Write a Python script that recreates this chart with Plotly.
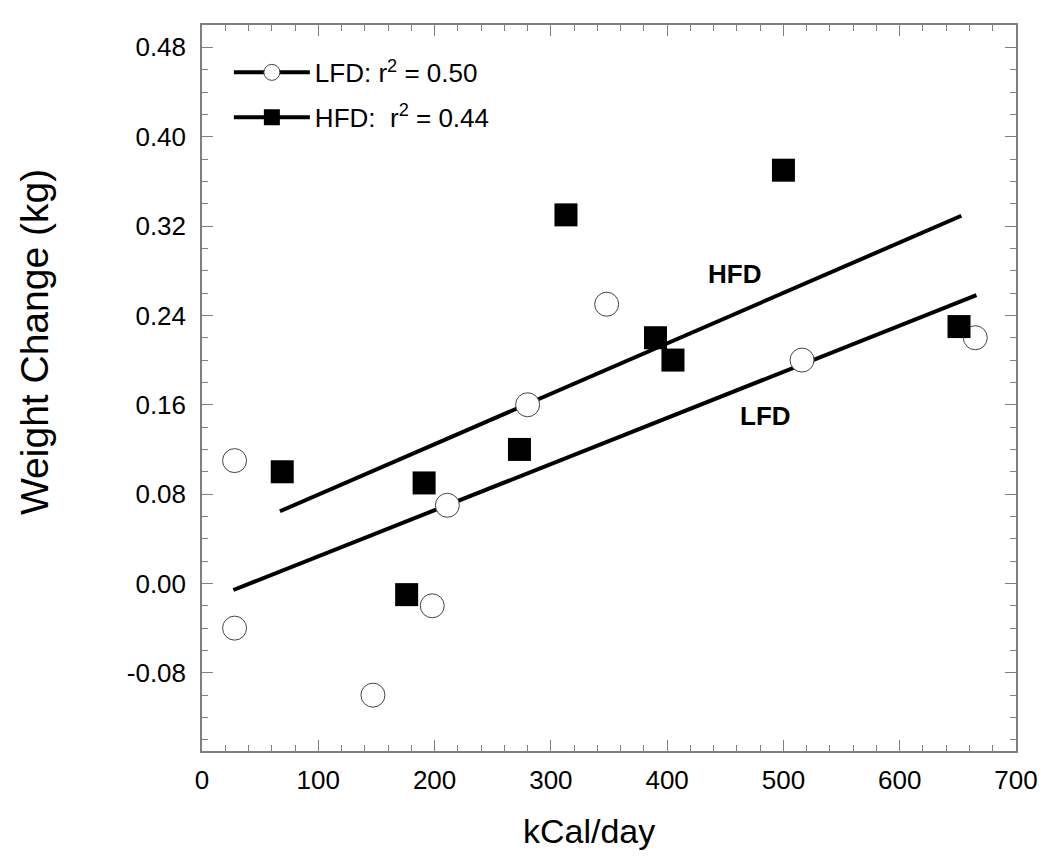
import plotly.graph_objects as go

# Data
lfd_x = [28, 28, 147, 198, 211, 280, 348, 516, 665]
lfd_y = [0.11, -0.04, -0.10, -0.02, 0.07, 0.16, 0.25, 0.20, 0.22]
hfd_x = [69, 176, 191, 273, 313, 390, 405, 500, 651]
hfd_y = [0.10, -0.01, 0.09, 0.12, 0.33, 0.22, 0.20, 0.37, 0.23]

# Regression lines (slope, intercept) and x-extent
lfd_fit = (0.000413, -0.017)
hfd_fit = (0.0004515, 0.0344)
lfd_fit_x = [27, 666]
hfd_fit_x = [67, 653]

legend_labels = ["LFD: r<sup>2</sup> = 0.50", "HFD:  r<sup>2</sup> = 0.44"]
x_ticks = [0, 100, 200, 300, 400, 500, 600, 700]
y_ticks = [-0.08, 0.00, 0.08, 0.16, 0.24, 0.32, 0.40, 0.48]
y_ticktext = [f"{v:.2f}" for v in y_ticks]  # plain hyphen minus

FONT = "Liberation Sans, Arial, sans-serif"
AXIS_COLOR = "#7f7f7f"

# the page body has an 8px default margin; the figure is sized to fit
W, H = 1042, 852
ML, MR, MT, MB = 194, 34, 17, 109
PW, PH = W - ML - MR, H - MT - MB

def px_to_paper(px, py):
    fx, fy = px - 8, py - 8
    return (fx - ML) / PW, (MT + PH - fy) / PH

fig = go.Figure()

def line_y(fit, xs):
    return [fit[0] * x + fit[1] for x in xs]

fig.add_trace(go.Scatter(x=lfd_fit_x, y=line_y(lfd_fit, lfd_fit_x), mode="lines",
                         line=dict(color="black", width=4), showlegend=False))
fig.add_trace(go.Scatter(x=hfd_fit_x, y=line_y(hfd_fit, hfd_fit_x), mode="lines",
                         line=dict(color="black", width=4), showlegend=False))

fig.add_trace(go.Scatter(x=lfd_x, y=lfd_y, mode="markers",
                         marker=dict(symbol="circle", size=24, color="white",
                                     line=dict(color="#444", width=1)),
                         showlegend=False))
fig.add_trace(go.Scatter(x=hfd_x, y=hfd_y, mode="markers",
                         marker=dict(symbol="square", size=23, color="black",
                                     line=dict(color="black", width=0)),
                         showlegend=False))

# legend entries
fig.add_trace(go.Scatter(x=[None], y=[None], mode="lines+markers", name=legend_labels[0],
                         line=dict(color="black", width=4), legendgroup="a",
                         marker=dict(symbol="circle", size=24, color="white",
                                     line=dict(color="#444", width=1))))
fig.add_trace(go.Scatter(x=[None], y=[None], mode="lines+markers", name=legend_labels[1],
                         line=dict(color="black", width=4), legendgroup="b",
                         marker=dict(symbol="square", size=23, color="black")))

fig.add_annotation(x=458, y=0.277, text="<b>HFD</b>", showarrow=False,
                   font=dict(family=FONT, size=26, color="black"))
fig.add_annotation(x=485, y=0.150, text="<b>LFD</b>", showarrow=False,
                   font=dict(family=FONT, size=26, color="black"))

# axis titles
xt = px_to_paper(589, 831)
fig.add_annotation(xref="paper", yref="paper", x=xt[0], y=xt[1], text="kCal/day",
                   xanchor="center", yanchor="middle",
                   showarrow=False, font=dict(family=FONT, size=34, color="black"))
yt = px_to_paper(34, 342)
fig.add_annotation(xref="paper", yref="paper", x=yt[0], y=yt[1], text="Weight Change (kg)",
                   xanchor="center", yanchor="middle",
                   textangle=-90, showarrow=False, font=dict(family=FONT, size=39, color="black"))

axis_common = dict(
    showline=True, linecolor=AXIS_COLOR, linewidth=1.5, mirror="ticks",
    ticks="inside", ticklen=11, tickwidth=1.3, tickcolor=AXIS_COLOR,
    showgrid=False, zeroline=False, automargin=False,
    tickfont=dict(family=FONT, size=26, color="black"),
)

fig.update_xaxes(**axis_common, range=[0, 700], tickmode="array", tickvals=x_ticks,
                 ticktext=[str(v) for v in x_ticks],
                 minor=dict(ticks="inside", ticklen=6, dtick=20, tick0=0, tickcolor=AXIS_COLOR, tickwidth=1.3),
                 ticklabelstandoff=5)
fig.update_yaxes(**axis_common, range=[-0.15, 0.50], tickmode="array", tickvals=y_ticks,
                 ticktext=y_ticktext,
                 minor=dict(ticks="inside", ticklen=6, dtick=0.02, tick0=0, tickcolor=AXIS_COLOR, tickwidth=1.3),
                 ticklabelstandoff=9)

fig.update_layout(
    width=W, height=H,
    margin=dict(l=ML, r=MR, t=MT, b=MB),
    plot_bgcolor="white", paper_bgcolor="white",
    font=dict(family=FONT, color="black"),
    legend=dict(x=0.033, y=0.967, xanchor="left", yanchor="top",
                font=dict(family=FONT, size=26, color="black"),
                itemwidth=76, tracegroupgap=8, bgcolor="rgba(0,0,0,0)"),
)

fig.write_html("out.html")
